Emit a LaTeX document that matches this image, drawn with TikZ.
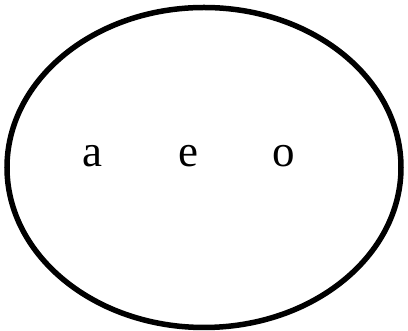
\documentclass[tikz,border=0pt]{standalone}
\usepackage{fontspec}
\setmainfont{Liberation Serif}
\begin{document}
	\begin{tikzpicture}[x=1pt, y=1pt, every node/.style={font=\fontsize{45}{50}\selectfont, anchor=base}]
		\useasboundingbox (0,0) rectangle (408,331);
		\draw[line width=5.5pt] (204,163.5) ellipse [x radius=197, y radius=160];
		\node (a) at (92,164) {a};
		\node (e) at (188,164) {e};
		\node (o) at (284,164) {o};
	\end{tikzpicture}
\end{document}
